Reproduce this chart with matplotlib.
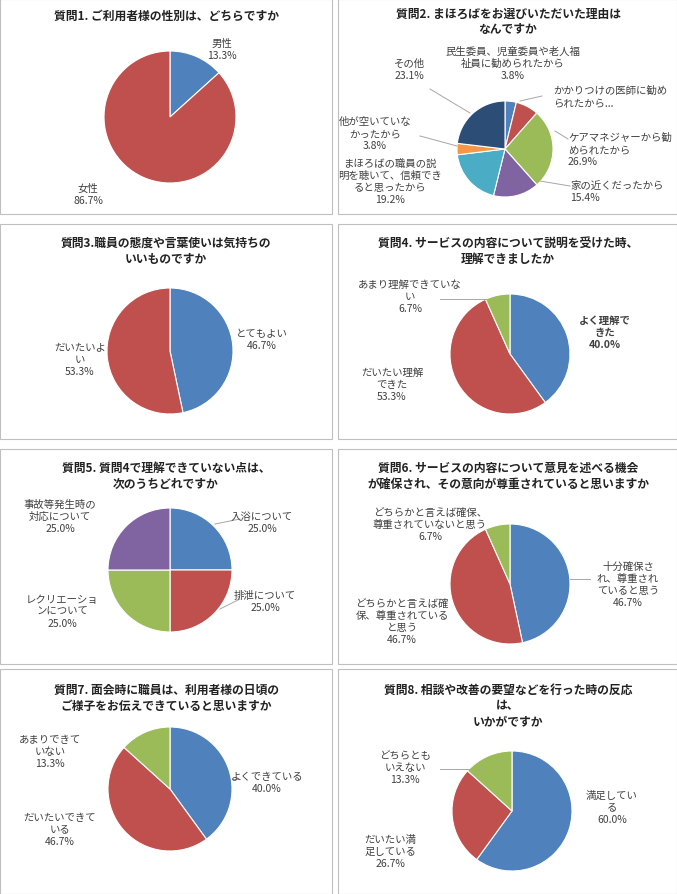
import matplotlib
matplotlib.use("Agg")
import matplotlib.pyplot as plt
from matplotlib.patches import Rectangle

plt.rcParams['font.family'] = 'Noto Sans CJK JP'
W, H = 677, 895
BLUE, RED, GREEN, PURPLE, AQUA, ORANGE, NAVY = '#4F81BD', '#C0504D', '#9BBB59', '#8064A2', '#4BACC6', '#F79646', '#2C4D75'

titles = [
    "質問1. ご利用者様の性別は、どちらですか",
    "質問2. まほろばをお選びいただいた理由は\nなんですか",
    "質問3.職員の態度や言葉使いは気持ちの\nいいものですか",
    "質問4. サービスの内容について説明を受けた時、\n理解できましたか",
    "質問5. 質問4で理解できていない点は、\n次のうちどれですか",
    "質問6. サービスの内容について意見を述べる機会\nが確保され、その意向が尊重されていると思いますか",
    "質問7. 面会時に職員は、利用者様の日頃の\nご様子をお伝えできていると思いますか",
    "質問8. 相談や改善の要望などを行った時の反応\nは、\nいかがですか",
]
q1_labels = ["男性", "女性"]; q1_values = [13.3, 86.7]
q2_labels = ["民生委員、児童委員や老人福\n祉員に勧められたから", "かかりつけの医師に勧め\nられたから...", "ケアマネジャーから勧\nめられたから",
             "家の近くだったから", "まほろばの職員の説\n明を聴いて、信頼でき\nると思ったから", "他が空いていな\nかったから", "その他"]
q2_values = [3.8, 7.7, 26.9, 15.4, 19.2, 3.8, 23.1]
q3_labels = ["とてもよい", "だいたいよ\nい"]; q3_values = [46.7, 53.3]
q4_labels = ["よく理解で\nきた", "だいたい理解\nできた", "あまり理解できていな\nい"]; q4_values = [40.0, 53.3, 6.7]
q5_labels = ["入浴について", "排泄について", "レクリエーショ\nンについて", "事故等発生時の\n対応について"]; q5_values = [25.0, 25.0, 25.0, 25.0]
q6_labels = ["十分確保さ\nれ、尊重され\nていると思う", "どちらかと言えば確\n保、尊重されている\nと思う", "どちらかと言えば確保、\n尊重されていないと思う"]; q6_values = [46.7, 46.7, 6.7]
q7_labels = ["よくできている", "だいたいできて\nいる", "あまりできて\nいない"]; q7_values = [40.0, 46.7, 13.3]
q8_labels = ["満足してい\nる", "だいたい満\n足している", "どちらとも\nいえない"]; q8_values = [60.0, 26.7, 13.3]

fig = plt.figure(figsize=(W/100, H/100), dpi=100)

def P(x, y):
    return x / W, 1 - y / H

panels = [(0, 0, 332, 215), (338, 0, 339, 215), (0, 225, 332, 215), (338, 225, 339, 215),
          (0, 450, 332, 215), (338, 450, 339, 215), (0, 670, 332, 225), (338, 670, 339, 225)]
for (x, y, w, h) in panels:
    fig.patches.append(Rectangle(P(x, y + h), w / W, h / H, transform=fig.transFigure,
                                 fill=False, edgecolor='#BFBFBF', lw=0.8))

title_pos = [(166, 10), (508, 8), (166, 237), (508, 237), (166, 462), (508, 462), (166, 684), (508, 684)]
for t, (x, y) in zip(titles, title_pos):
    fig.text(*P(x, y), t, ha='center', va='top', fontsize=8.5, fontweight='bold', color='#222222', linespacing=1.25)

def pie(cx, cy, r, values, colors):
    ax = fig.add_axes([(cx - r) / W, 1 - (cy + r) / H, 2 * r / W, 2 * r / H])
    ax.pie(values, colors=colors, startangle=90, counterclock=False, radius=1,
           wedgeprops=dict(edgecolor='white', linewidth=0.8))
    ax.set_xlim(-1, 1); ax.set_ylim(-1, 1); ax.set_aspect('auto'); ax.axis('off')

def lab(x, y, name, val, ha='center', bold=False):
    fig.text(*P(x, y), f"{name}\n{val:.1f}%", ha=ha, va='center', fontsize=7.5, color='#404040',
             linespacing=1.25, fontweight='bold' if bold else 'normal')

def line(x1, y1, x2, y2):
    fig.add_artist(plt.Line2D([x1 / W, x2 / W], [1 - y1 / H, 1 - y2 / H], color='#A6A6A6', lw=0.7))

# Q1
pie(170, 118, 66, q1_values, [BLUE, RED])
lab(222, 50, q1_labels[0], q1_values[0])
lab(88, 195, q1_labels[1], q1_values[1])
# Q2
pie(505, 150, 48, q2_values, [BLUE, RED, GREEN, PURPLE, AQUA, ORANGE, NAVY])
lab(513, 64, q2_labels[0], q2_values[0])
fig.text(*P(553, 97), q2_labels[1], ha='left', va='center', fontsize=7.5, color='#404040', linespacing=1.25)
lab(568, 150, q2_labels[2], q2_values[2], ha='left')
lab(570, 192, q2_labels[3], q2_values[3], ha='left')
lab(390, 182, q2_labels[4], q2_values[4])
lab(375, 134, q2_labels[5], q2_values[5])
lab(409, 70, q2_labels[6], q2_values[6])
line(520, 102, 542, 97); line(555, 132, 568, 140); line(540, 182, 570, 187)
line(420, 137, 457, 147); line(430, 90, 470, 114)
# Q3
pie(170, 352, 63, q3_values, [BLUE, RED])
lab(262, 340, q3_labels[0], q3_values[0])
lab(80, 360, q3_labels[1], q3_values[1])
# Q4
pie(510, 355, 60, q4_values, [BLUE, RED, GREEN])
lab(605, 333, q4_labels[0], q4_values[0], bold=True)
lab(392, 385, q4_labels[1], q4_values[1])
lab(410, 297, q4_labels[2], q4_values[2])
line(440, 300, 490, 300)
# Q5
pie(170, 571, 62, q5_values, [BLUE, RED, GREEN, PURPLE])
lab(262, 523, q5_labels[0], q5_values[0])
lab(265, 602, q5_labels[1], q5_values[1])
lab(62, 612, q5_labels[2], q5_values[2])
lab(60, 517, q5_labels[3], q5_values[3])
line(215, 525, 240, 520); line(220, 610, 240, 600)
# Q6
pie(510, 585, 60, q6_values, [BLUE, RED, GREEN])
lab(628, 585, q6_labels[0], q6_values[0])
lab(402, 622, q6_labels[1], q6_values[1])
lab(430, 525, q6_labels[2], q6_values[2])
line(570, 580, 590, 580)
# Q7
pie(170, 790, 62, q7_values, [BLUE, RED, GREEN])
lab(267, 783, q7_labels[0], q7_values[0])
lab(60, 830, q7_labels[1], q7_values[1])
lab(50, 752, q7_labels[2], q7_values[2])
line(232, 780, 240, 780)
# Q8
pie(512, 812, 60, q8_values, [BLUE, RED, GREEN])
lab(612, 808, q8_labels[0], q8_values[0])
lab(390, 852, q8_labels[1], q8_values[1])
lab(405, 768, q8_labels[2], q8_values[2])
line(440, 770, 480, 770)

fig.savefig("out.png", dpi=100, facecolor='white')
